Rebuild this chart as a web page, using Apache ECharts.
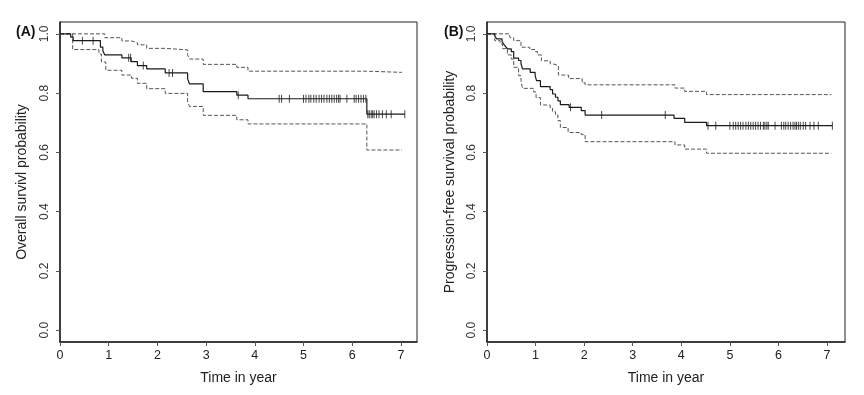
<!DOCTYPE html>
<html>
<head>
<meta charset="utf-8">
<script src="https://cdn.jsdelivr.net/npm/echarts@6/dist/echarts.min.js"></script>
<style>
  html, body { margin: 0; padding: 0; background: #fff; }
  #main { width: 864px; height: 395px; }
</style>
</head>
<body>
<div id="main"></div>
<script>
// (A) overall survival: KM estimate and 95% band
var osTime = [0, 0.22, 0.27, 0.83, 0.88, 0.92, 1.27, 1.46, 1.59, 1.78, 2.16, 2.62, 2.66, 2.94, 3.63, 3.86, 6.30, 7.08];
var osSurv = [1, 0.989, 0.977, 0.955, 0.943, 0.929, 0.919, 0.906, 0.893, 0.882, 0.868, 0.848, 0.831, 0.805, 0.793, 0.781, 0.729, 0.729];
var osUpTime = [0, 0.92, 1.27, 1.47, 1.59, 1.78, 2.16, 2.62, 2.66, 2.94, 3.63, 3.86, 6.30, 7.02];
var osUpVal = [1, 0.987, 0.976, 0.970, 0.963, 0.951, 0.946, 0.929, 0.915, 0.897, 0.887, 0.874, 0.870, 0.870];
var osLoTime = [0, 0.26, 0.80, 0.85, 0.94, 1.27, 1.47, 1.59, 1.78, 2.16, 2.62, 2.66, 2.94, 3.63, 3.86, 6.30, 7.02];
var osLoVal = [1, 0.947, 0.932, 0.905, 0.877, 0.861, 0.850, 0.833, 0.815, 0.799, 0.770, 0.755, 0.725, 0.710, 0.696, 0.608, 0.608];
var osCensor = [0.46, 0.68, 1.41, 1.45, 1.71, 2.24, 2.31, 3.66, 4.50, 4.55, 4.71, 5.00, 5.05, 5.11, 5.15, 5.21,
  5.26, 5.32, 5.37, 5.42, 5.48, 5.53, 5.58, 5.63, 5.68, 5.72, 5.75, 5.89, 6.04, 6.08, 6.13, 6.18, 6.23, 6.28,
  6.32, 6.35, 6.39, 6.42, 6.45, 6.50, 6.55, 6.62, 6.70, 6.80, 7.08];

// (B) progression-free survival
var pfsTime = [0, 0.16, 0.20, 0.31, 0.34, 0.38, 0.42, 0.50, 0.55, 0.65, 0.70, 0.73, 0.89, 0.99, 1.02, 1.10, 1.30,
  1.35, 1.41, 1.46, 1.51, 1.69, 1.94, 2.02, 3.85, 4.07, 4.52, 7.11];
var pfsSurv = [1, 0.992, 0.983, 0.974, 0.966, 0.958, 0.949, 0.940, 0.918, 0.910, 0.899, 0.882, 0.870, 0.859, 0.842,
  0.822, 0.812, 0.797, 0.786, 0.774, 0.761, 0.752, 0.741, 0.726, 0.715, 0.701, 0.690, 0.690];
var pfsUpTime = [0, 0.47, 0.55, 0.70, 0.88, 0.99, 1.04, 1.12, 1.30, 1.35, 1.47, 1.68, 1.96, 2.02, 3.87, 4.07, 4.52, 7.09];
var pfsUpVal = [1, 0.987, 0.977, 0.955, 0.947, 0.940, 0.929, 0.909, 0.899, 0.893, 0.861, 0.849, 0.835, 0.828, 0.817,
  0.806, 0.795, 0.795];
var pfsLoTime = [0, 0.16, 0.27, 0.32, 0.42, 0.50, 0.55, 0.65, 0.70, 0.73, 0.96, 1.01, 1.10, 1.30, 1.35, 1.41, 1.46,
  1.51, 1.67, 1.94, 2.02, 3.87, 4.07, 4.52, 7.09];
var pfsLoVal = [1, 0.977, 0.966, 0.950, 0.929, 0.915, 0.887, 0.859, 0.842, 0.816, 0.804, 0.785, 0.760, 0.749, 0.737,
  0.726, 0.707, 0.684, 0.667, 0.660, 0.636, 0.625, 0.611, 0.597, 0.597];
var pfsCensor = [1.72, 2.36, 3.67, 4.55, 4.71, 5.00, 5.07, 5.12, 5.17, 5.22, 5.27, 5.33, 5.38, 5.43, 5.48, 5.53,
  5.58, 5.63, 5.69, 5.72, 5.76, 5.79, 5.93, 6.06, 6.11, 6.15, 6.20, 6.25, 6.30, 6.34, 6.37, 6.41, 6.45, 6.51,
  6.56, 6.65, 6.73, 6.82, 7.11];

var xTicks = [0, 1, 2, 3, 4, 5, 6, 7];
var yTicks = [0, 0.2, 0.4, 0.6, 0.8, 1.0];

var FONT = 'Liberation Sans, Arial, Helvetica, sans-serif';

function pairs(xs, ys) {
  return xs.map(function (x, i) { return [x, ys[i]]; });
}

// height of the KM step curve at time t (used to place censoring marks)
function stepAt(xs, ys, t) {
  var v = ys[0];
  for (var i = 0; i < xs.length; i++) {
    if (xs[i] <= t) v = ys[i];
  }
  return v;
}

function xAxisFor(idx, max) {
  return {
    gridIndex: idx,
    type: 'value',
    min: 0,
    max: max,
    name: 'Time in year',
    nameLocation: 'middle',
    nameGap: 29,
    nameTextStyle: { fontFamily: FONT, fontSize: 14, color: '#222' },
    splitLine: { show: false },
    axisLine: { onZero: false, lineStyle: { color: '#222', width: 1.5 } },
    axisTick: { length: 4, lineStyle: { color: '#555' }, customValues: xTicks },
    axisLabel: { fontFamily: FONT, fontSize: 12.5, color: '#222', margin: 7, customValues: xTicks }
  };
}

function yAxisFor(idx, name, gap) {
  return {
    gridIndex: idx,
    type: 'value',
    min: -0.04,
    max: 1.04,
    name: name,
    nameLocation: 'middle',
    nameGap: gap,
    nameTextStyle: { fontFamily: FONT, fontSize: 14, color: '#222' },
    splitLine: { show: false },
    axisLine: { show: true, onZero: false, lineStyle: { color: '#222', width: 1.5 } },
    axisTick: { show: true, length: 4, lineStyle: { color: '#555' }, customValues: yTicks },
    axisLabel: {
      fontFamily: FONT, fontSize: 12, color: '#333', margin: 9, rotate: 90,
      customValues: yTicks,
      formatter: function (v) { return v.toFixed(1); }
    }
  };
}

function kmSeries(idx, data, dashed) {
  return {
    type: 'line',
    xAxisIndex: idx,
    yAxisIndex: idx,
    step: 'end',
    symbol: 'none',
    silent: true,
    data: data,
    lineStyle: dashed
      ? { color: '#555', width: 1, type: [4, 2] }
      : { color: '#1a1a1a', width: 1.2 }
  };
}

function censorSeries(idx, times, xs, ys) {
  return {
    type: 'scatter',
    xAxisIndex: idx,
    yAxisIndex: idx,
    symbol: 'rect',
    symbolSize: [1, 8],
    silent: true,
    itemStyle: { color: '#1a1a1a' },
    data: times.map(function (t) { return [t, stepAt(xs, ys, t)]; })
  };
}

var chart = echarts.init(document.getElementById('main'), null, { renderer: 'canvas' });

var option = {
  backgroundColor: '#fff',
  animation: false,
  title: [
    { text: '(A)', left: 11, top: 20, textStyle: { fontFamily: FONT, fontSize: 14, fontWeight: 'bold', color: '#111' } },
    { text: '(B)', left: 439, top: 20, textStyle: { fontFamily: FONT, fontSize: 14, fontWeight: 'bold', color: '#111' } }
  ],
  grid: [
    { left: 60, top: 22, width: 357, height: 320, show: true, borderColor: '#222', borderWidth: 1 },
    { left: 487, top: 22, width: 358, height: 320, show: true, borderColor: '#222', borderWidth: 1 }
  ],
  xAxis: [xAxisFor(0, 7.33), xAxisFor(1, 7.37)],
  yAxis: [
    yAxisFor(0, 'Overall survivl probability', 31),
    yAxisFor(1, 'Progression-free survival probability', 30)
  ],
  series: [
    kmSeries(0, pairs(osUpTime, osUpVal), true),
    kmSeries(0, pairs(osLoTime, osLoVal), true),
    kmSeries(0, pairs(osTime, osSurv), false),
    censorSeries(0, osCensor, osTime, osSurv),
    kmSeries(1, pairs(pfsUpTime, pfsUpVal), true),
    kmSeries(1, pairs(pfsLoTime, pfsLoVal), true),
    kmSeries(1, pairs(pfsTime, pfsSurv), false),
    censorSeries(1, pfsCensor, pfsTime, pfsSurv)
  ]
};

chart.setOption(option);
</script>
</body>
</html>
